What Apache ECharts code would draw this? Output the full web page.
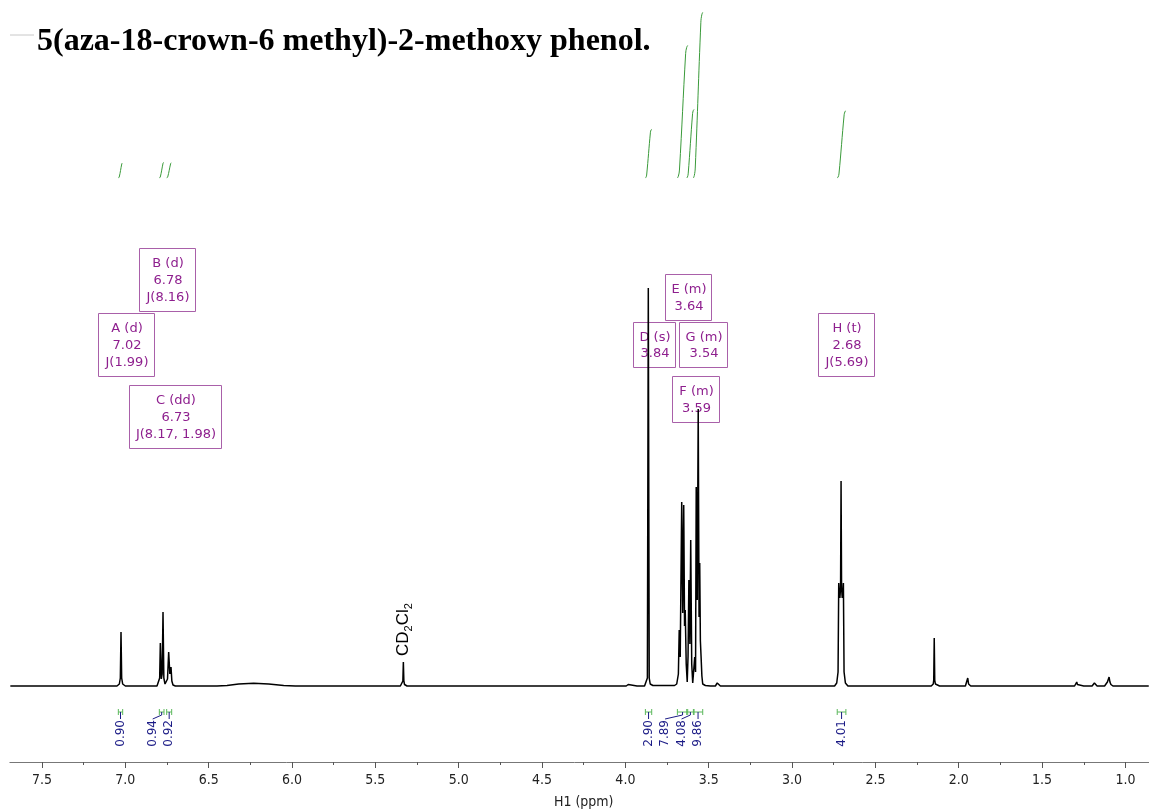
<!DOCTYPE html>
<html><head><meta charset="utf-8">
<script src="https://cdn.jsdelivr.net/npm/echarts@6/dist/echarts.min.js"></script>
<style>html,body{margin:0;padding:0;background:#fff;}#c{width:1149px;height:810px;}</style>
</head><body><div id="c"></div>
<script>
// ---------------- data ----------------
const titleText = '5(aza-18-crown-6 methyl)-2-methoxy phenol.';
const axisTitle = 'H1 (ppm)';
// spectrum: [ppm, intensity (a.u.)]
const spectrum = [
 [7.69,0],[7.30,0],[7.05,0],[7.036,2],[7.030,8],[7.026,54],[7.022,8],[7.016,2],[7.00,0],[6.90,0],
 [6.81,0],[6.799,2],[6.794,8],[6.790,43],[6.784,7],[6.779,12],[6.774,74],[6.769,8],[6.762,2],[6.754,2],[6.747,7],[6.740,34],[6.733,12],[6.726,19],[6.721,5],[6.714,1],[6.70,0],[6.60,0],
 [6.45,0],[6.39,0.5],[6.32,2],[6.23,2.7],[6.14,2],[6.05,0.5],[5.98,0],[5.70,0],
 [5.35,0],[5.339,1.5],[5.335,5],[5.332,24],[5.329,5],[5.325,1.5],[5.31,0],[5.00,0],[4.50,0],
 [3.995,0],[3.983,1.5],[3.972,0],[3.93,0],
 [3.885,0],[3.874,2],[3.868,8],[3.8625,398],[3.857,8],[3.851,2],[3.835,0.5],[3.80,0.5],
 [3.752,0.5],[3.744,1.5],[3.736,0.5],
 [3.705,0.5],[3.692,2],[3.682,12],[3.677,56],[3.671,29],[3.662,184],[3.656,73],[3.650,181],[3.645,60],[3.641,76],[3.635,22],[3.629,4],[3.624,30],[3.619,106],[3.613,42],[3.608,146],[3.602,22],[3.596,3],[3.589,18],[3.584,29],[3.579,14],[3.575,199],[3.569,86],[3.563,277],[3.558,69],[3.554,123],[3.550,45],[3.546,30],[3.541,10],[3.536,2],[3.52,0.5],[3.49,0],
 [3.46,0],[3.454,1],[3.449,3],[3.444,1],[3.43,0],[3.30,0],[3.00,0],
 [2.745,0],[2.732,3],[2.724,14],[2.720,103],[2.716,92],[2.713,88],[2.709,98],[2.706,205],[2.703,98],[2.699,88],[2.696,92],[2.692,103],[2.688,14],[2.680,3],[2.665,0],[2.60,0],[2.40,0],
 [2.165,0],[2.153,2],[2.150,6],[2.147,48],[2.144,6],[2.140,2],[2.13,0],[2.115,0],
 [2.10,0],[2.094,1.2],[2.088,0],[2.03,0],
 [1.96,0],[1.951,2],[1.946,8],[1.941,2],[1.935,0.5],[1.928,0],[1.92,0],[1.90,0],[1.85,0],[1.80,0],[1.70,0],[1.60,0],[1.50,0],
 [1.45,0],[1.441,1],[1.432,0],[1.40,0],[1.35,0],
 [1.305,0],[1.296,1.5],[1.292,4],[1.288,1.5],[1.278,0],[1.25,0],[1.22,0],
 [1.20,0],[1.191,2],[1.186,3],[1.181,2],[1.17,0],[1.15,0],
 [1.125,0],[1.114,2],[1.108,4],[1.103,4],[1.098,9],[1.093,4],[1.087,1.5],[1.075,0],[1.05,0],[1.00,0],
 [0.86,0]
];
const integralFrom   = [7.042, 6.796, 6.752, 3.880, 3.688, 3.632, 3.592, 2.729];
const integralTo     = [7.016, 6.768, 6.722, 3.842, 3.626, 3.588, 3.536, 2.677];
const integralValues = [0.90, 0.94, 0.92, 2.90, 7.89, 4.08, 9.86, 4.01];
const peakNames = ['A','B','C','D','E','F','G','H'];
const peakMultiplicity = ['d','d','dd','s','m','m','m','t'];
const peakShifts = [7.02, 6.78, 6.73, 3.84, 3.64, 3.59, 3.54, 2.68];
const peakJ = ['1.99','8.16','8.17, 1.98',null,null,null,null,'5.69'];
const solventShift = 5.332;

// ---------------- layout / style ----------------
const PX_PER_PPM = 166.68, X_AT_7_5 = 42;
const AX_MIN = 0.5, AX_MAX = 8.0;
const gridLeft = X_AT_7_5 - (AX_MAX - 7.5) * PX_PER_PPM;
const gridRight = 1149 - (X_AT_7_5 + (7.5 - AX_MIN) * PX_PER_PPM);
const PURPLE = '#8e1f8e', PURPLE_BORDER = '#a960a9';
const GREEN = '#3a9a3a', GREEN_L = '#5cb85c', NAVY = '#1b1b86';
const LABEL_GAP = 16.5;
// annotation boxes [left, top, width, height] in px
const boxLayout = [[98,313,56,63],[139,248,56,63],[129,385,92,63],[633,322,42,45],[665,274,46,46],[672,376,47,46],[679,322,48,45],[818,313,56,63]];

const chart = echarts.init(document.getElementById('c'));

const integralSeries = integralValues.map((v, i) => {
  const f = integralFrom[i], t = integralTo[i], d = f - t;
  return {
    type: 'line', xAxisIndex: 1, yAxisIndex: 1, smooth: 0.4, symbol: 'none', silent: true,
    lineStyle: {color: GREEN, width: 1},
    data: [[f, 0], [f - 0.1 * d, 0.015 * v], [f - 0.2 * d, 0.06 * v], [t + 0.2 * d, 0.94 * v], [t + 0.1 * d, 0.985 * v], [t, v]]
  };
});

function labelLayout(api) {
  const c = integralFrom.map((f, i) => (api.coord([f, 0])[0] + api.coord([integralTo[i], 0])[0]) / 2);
  const lx = c.slice();
  for (let i = c.length - 2; i >= 0; i--) lx[i] = Math.min(c[i], lx[i + 1] - LABEL_GAP);
  return {c, lx};
}

const bracketSeries = {
  type: 'custom', xAxisIndex: 0, yAxisIndex: 0, silent: true,
  data: integralValues.map((v, i) => [integralFrom[i], integralTo[i], v]),
  encode: {x: [0, 1], y: 2},
  renderItem: function (params, api) {
    const i = params.dataIndex;
    const L = labelLayout(api);
    const x1 = api.coord([integralFrom[i], 0])[0];
    const x2 = api.coord([integralTo[i], 0])[0];
    const yB = api.coord([0, 0])[1] + 26;
    const cx = L.c[i], lx = L.lx[i];
    const yT = yB + 8;
    return {type: 'group', children: [
      {type: 'line', shape: {x1: x1, y1: yB, x2: x2, y2: yB}, style: {stroke: GREEN_L, lineWidth: 1}},
      {type: 'line', shape: {x1: x1, y1: yB - 3, x2: x1, y2: yB + 3}, style: {stroke: GREEN_L, lineWidth: 1}},
      {type: 'line', shape: {x1: x2, y1: yB - 3, x2: x2, y2: yB + 3}, style: {stroke: GREEN_L, lineWidth: 1}},
      {type: 'polyline', shape: {points: [[cx, yB], [cx, yB + 3], [lx, yT - 1]]}, style: {stroke: NAVY, lineWidth: 1, fill: null}},
      {type: 'text', x: lx, y: yT, rotation: Math.PI / 2,
        style: {text: api.value(2).toFixed(2), x: 0, y: 0, align: 'right', textAlign: 'right', verticalAlign: 'middle', textVerticalAlign: 'middle',
          fill: NAVY, font: '12px "DejaVu Sans"'}}
    ]};
  }
};

const graphics = [
  {type: 'text', x: 37, y: 42, z: 10, style: {text: titleText, font: 'bold 32px "Liberation Serif"', fill: '#000', align: 'left', verticalAlign: 'middle', textAlign: 'left', textVerticalAlign: 'middle'}},
  {type: 'line', shape: {x1: 10, y1: 35, x2: 34, y2: 35}, style: {stroke: '#c8c8c8', lineWidth: 1}},
  {type: 'rect', shape: {x: 0, y: 748, width: 9.5, height: 30}, style: {fill: '#fff'}, z: 100}
];
peakNames.forEach((n, i) => {
  const b = boxLayout[i];
  const lines = [n + ' (' + peakMultiplicity[i] + ')', peakShifts[i].toFixed(2)];
  if (peakJ[i]) lines.push('J(' + peakJ[i] + ')');
  graphics.push({type: 'rect', shape: {x: b[0] + 0.5, y: b[1] + 0.5, width: b[2], height: b[3]}, style: {fill: 'rgba(0,0,0,0)', stroke: PURPLE_BORDER, lineWidth: 1}});
  graphics.push({type: 'text', x: b[0] + b[2] / 2 + 1, y: b[1] + b[3] / 2 + 1,
    style: {text: lines.join('\n'), font: '13px "DejaVu Sans"', lineHeight: 16.7, fill: PURPLE, align: 'center', textAlign: 'center', verticalAlign: 'middle', textVerticalAlign: 'middle'}});
});

const option = {
  animation: false,
  backgroundColor: '#fff',
  grid: [
    {left: gridLeft, right: gridRight, top: 10, bottom: 48, containLabel: false, outerBoundsMode: 'none'},
    {left: gridLeft, right: gridRight, top: 10, bottom: 632, containLabel: false, outerBoundsMode: 'none'}
  ],
  xAxis: [
    {gridIndex: 0, type: 'value', inverse: true, min: AX_MIN, max: AX_MAX, interval: 0.5,
      axisLine: {show: true, onZero: false, lineStyle: {color: '#777', width: 1}},
      axisTick: {show: true, length: 6, lineStyle: {color: '#555'}},
      minorTick: {show: true, splitNumber: 2, length: 3, lineStyle: {color: '#555'}},
      splitLine: {show: false}, minorSplitLine: {show: false},
      axisLabel: {formatter: v => v.toFixed(1), fontSize: 14, color: '#222', margin: 11, fontFamily: '"DejaVu Sans Condensed","DejaVu Sans"'},
      name: axisTitle, nameLocation: 'middle', nameGap: 33,
      nameTextStyle: {fontSize: 14, color: '#222', fontFamily: '"DejaVu Sans Condensed","DejaVu Sans"'}},
    {gridIndex: 1, type: 'value', inverse: true, min: AX_MIN, max: AX_MAX, show: false}
  ],
  yAxis: [
    {gridIndex: 0, type: 'value', min: -76, max: 676, show: false},
    {gridIndex: 1, type: 'value', min: 0, max: 10, show: false}
  ],
  graphic: graphics,
  series: [
    {type: 'line', xAxisIndex: 0, yAxisIndex: 0, data: spectrum, symbol: 'none', silent: true, z: 5, smooth: false,
      lineStyle: {color: '#000', width: 1.5},
      markPoint: {
        symbol: 'circle', symbolSize: 0,
        data: [{coord: [solventShift, 30], value: 'CD2Cl2'}],
        label: {show: true, position: 'inside', rotate: 90, align: 'left', verticalAlign: 'middle', offset: [0, 0],
          formatter: 'CD{s|2}Cl{s|2}', fontSize: 17, color: '#000', fontFamily: '"Liberation Sans"',
          rich: {s: {fontSize: 11, fontFamily: '"Liberation Sans"', verticalAlign: 'bottom', padding: [0, 0, 0, 0], lineHeight: 22}}}
      }
    },
    bracketSeries
  ].concat(integralSeries)
};
chart.setOption(option);
</script></body></html>
